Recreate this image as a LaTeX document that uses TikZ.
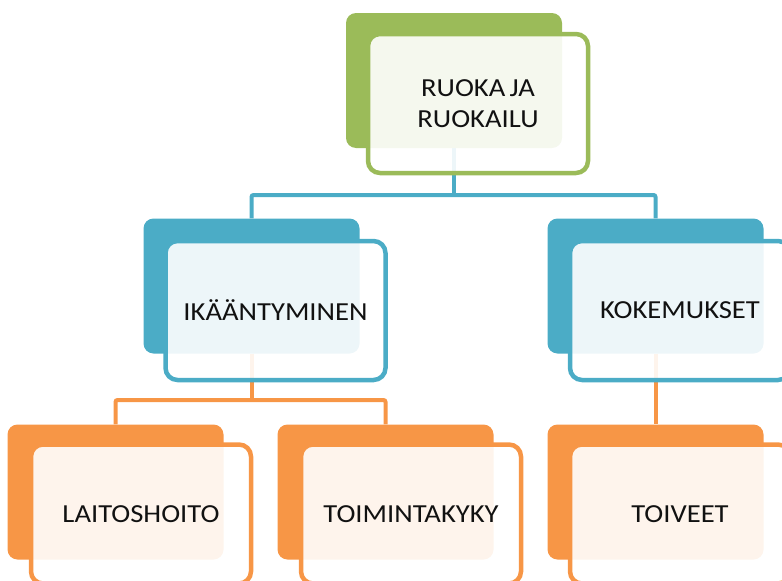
\documentclass[tikz,border=0pt]{standalone}
\usepackage{fontspec}
\setmainfont{Carlito}[FakeStretch=1.1]
\definecolor{cgreen}{HTML}{9BBB59}
\definecolor{cblue}{HTML}{4BACC6}
\definecolor{corange}{HTML}{F79646}
\definecolor{ctext}{HTML}{111111}
\begin{document}
\begin{tikzpicture}[x=1pt,y=-1pt,
  backbox/.style={fill=#1, draw=none, rounded corners=10pt, minimum width=216pt, minimum height=135pt, inner sep=0pt},
  frontbox/.style={draw=#1, line width=4.5pt, fill=white, fill opacity=0.9, text opacity=1, rounded corners=12pt, minimum width=220pt, minimum height=139pt, inner sep=0pt, align=center, text=ctext, font=\fontsize{26}{31}\selectfont},
  conn/.style={draw=#1, line width=4pt, rounded corners=2pt}]
\useasboundingbox (0,0) rectangle (782,581);
\begin{scope}
\clip (0,0) rectangle (782,581);
% connectors
\coordinate (j1) at (454,195);
\coordinate (j2) at (251.5,400);
\node[backbox=cgreen, opacity=0] (Tb0) at (454,80.5) {};
\node[backbox=cblue, opacity=0] (Lb0) at (251.5,286) {};
\node[backbox=cblue, opacity=0] (Rb0) at (655.5,286) {};
\node[backbox=corange, opacity=0] (B1b0) at (115.5,492) {};
\node[backbox=corange, opacity=0] (B2b0) at (385.5,492) {};
\node[backbox=corange, opacity=0] (B3b0) at (655.5,492) {};
\draw[conn=cblue] (Tb0.south) -- (j1);
\draw[conn=cblue] (Lb0.north) |- (j1) -| (Rb0.north);
\draw[conn=corange] (Lb0.south) -- (j2);
\draw[conn=corange] (B1b0.north) |- (j2) -| (B2b0.north);
\draw[conn=corange] (Rb0.south) -- (B3b0.north);
% back boxes
\node[backbox=cgreen] (Tb) at (454,80.5) {};
\node[backbox=cblue] (Lb) at (251.5,286) {};
\node[backbox=cblue] (Rb) at (655.5,286) {};
\node[backbox=corange] (B1b) at (115.5,492) {};
\node[backbox=corange] (B2b) at (385.5,492) {};
\node[backbox=corange] (B3b) at (655.5,492) {};
% front boxes
\node[frontbox=cgreen] (T) at (478,103.5) {RUOKA\,JA\\RUOKAILU};
\node[frontbox=cblue] (L) at (275.5,310.5) {IKÄÄNTYMINEN};
\node[frontbox=cblue] (R) at (680,310.5) {KOKEMUKSET};
\node[frontbox=corange] (B1) at (141,514) {LAITOSHOITO};
\node[frontbox=corange] (B2) at (411,514) {TOIMINTAKYKY};
\node[frontbox=corange] (B3) at (680,514) {TOIVEET};
\end{scope}
\end{tikzpicture}
\end{document}
